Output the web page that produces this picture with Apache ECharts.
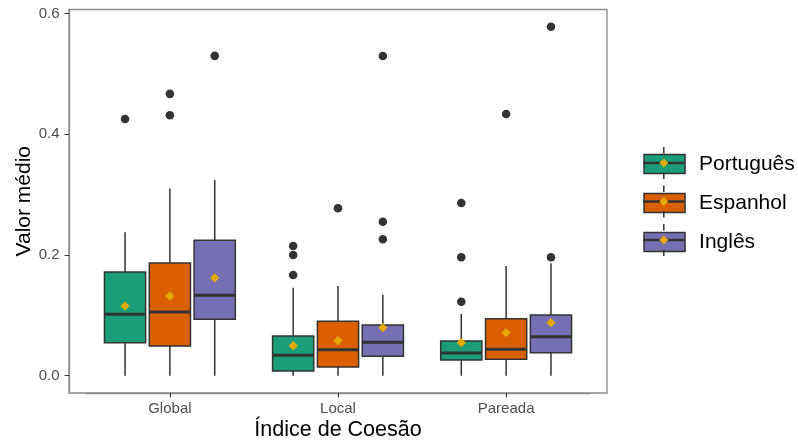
<!DOCTYPE html>
<html><head><meta charset="utf-8">
<script src="https://cdn.jsdelivr.net/npm/echarts@6/dist/echarts.min.js"></script>
<style>html,body{margin:0;padding:0;background:#fff}#c{width:798px;height:442px}</style>
</head><body><div id="c"></div>
<script>
const categories = ['Global', 'Local', 'Pareada'];
const languages = ['Português', 'Espanhol', 'Inglês'];
const yTicks = [0, 0.2, 0.4, 0.6];

// [lower whisker, Q1, median, Q3, upper whisker] per category
const portuguesBox = [[0, 0.0547, 0.102, 0.172, 0.2376], [0, 0.0078, 0.0338, 0.0658, 0.1458], [0, 0.026, 0.0375, 0.0575, 0.1022]];
const espanholBox  = [[0, 0.0492, 0.1055, 0.1867, 0.31], [0, 0.0144, 0.0431, 0.0901, 0.1486], [0, 0.0272, 0.0437, 0.0945, 0.1818]];
const inglesBox    = [[0, 0.0934, 0.1332, 0.2244, 0.3243], [0, 0.0321, 0.0553, 0.084, 0.1342], [0, 0.0381, 0.0646, 0.1006, 0.1862]];

const portuguesMean = [0.1155, 0.0497, 0.0547];
const espanholMean  = [0.132, 0.058, 0.0713];
const inglesMean    = [0.162, 0.0795, 0.0878];

// outliers: [category index, value]
const portuguesOutliers = [[0, 0.4254], [1, 0.2149], [1, 0.2], [1, 0.1669], [2, 0.1226], [2, 0.1962], [2, 0.2862]];
const espanholOutliers  = [[0, 0.467], [0, 0.4315], [1, 0.2774], [2, 0.4336]];
const inglesOutliers    = [[0, 0.530], [1, 0.5297], [1, 0.2552], [1, 0.226], [2, 0.5783], [2, 0.1962]];

const boxes = [portuguesBox, espanholBox, inglesBox];
const means = [portuguesMean, espanholMean, inglesMean];
const outliers = [portuguesOutliers, espanholOutliers, inglesOutliers];

const colors = ['#1B9E77', '#D95F02', '#7570B3'];
const meanColor = '#E6AB02';
const dark = '#333333';
const frameColor = '#8a8a8a';
const FONT = 'Liberation Sans, Arial, sans-serif';

const FRAME = {left: 69, top: 9.5, right: 607, bottom: 393};
const W = 798, H = 442;
const band = (FRAME.right - FRAME.left) / (categories.length + 0.2);
const gridLeft = FRAME.left + 0.1 * band;
const gridRightPx = FRAME.right - 0.1 * band;
const yMin = -0.0287, yMax = 0.6068;
const DODGE = 0.2667, BOXW = 0.245;

function boxRenderer(k) {
  return function (params, api) {
    const cat = api.value(0);
    const bw = api.size([1, 0])[0];
    const cx = api.coord([cat, 0])[0] + (k - 1) * bw * DODGE;
    const hw = bw * BOXW / 2;
    const y = d => api.coord([cat, api.value(d)])[1];
    const yLow = y(1), yQ1 = y(2), yMed = y(3), yQ3 = y(4), yHigh = y(5), yMean = y(6);
    const ls = {stroke: dark, lineWidth: 1.5};
    const d = 4.6;
    return {type: 'group', children: [
      {type: 'line', shape: {x1: cx, y1: yHigh, x2: cx, y2: yQ3}, style: ls},
      {type: 'line', shape: {x1: cx, y1: yQ1, x2: cx, y2: yLow}, style: ls},
      {type: 'rect', shape: {x: cx - hw, y: yQ3, width: 2 * hw, height: yQ1 - yQ3},
        style: {fill: api.visual('color'), stroke: dark, lineWidth: 1.5}},
      {type: 'line', shape: {x1: cx - hw, y1: yMed, x2: cx + hw, y2: yMed}, style: {stroke: dark, lineWidth: 3}},
      {type: 'polygon', shape: {points: [[cx, yMean - d], [cx + d, yMean], [cx, yMean + d], [cx - d, yMean]]},
        style: {fill: meanColor}}
    ]};
  };
}
function outlierRenderer(k) {
  return function (params, api) {
    const cat = api.value(0);
    const bw = api.size([1, 0])[0];
    const p = api.coord([cat, api.value(1)]);
    return {type: 'circle', shape: {cx: p[0] + (k - 1) * bw * DODGE, cy: p[1], r: 4.3}, style: {fill: dark}};
  };
}

const series = [];
languages.forEach((name, k) => {
  series.push({
    name, type: 'custom', itemStyle: {color: colors[k]},
    renderItem: boxRenderer(k),
    encode: {x: 0, y: [1, 2, 3, 4, 5, 6]},
    data: categories.map((c, i) => [i].concat(boxes[k][i], [means[k][i]])),
    z: 2
  });
  series.push({
    name, type: 'custom', itemStyle: {color: colors[k]},
    renderItem: outlierRenderer(k),
    encode: {x: 0, y: 1},
    data: outliers[k],
    z: 3
  });
});

// legend geometry
const LEG = {left: 643.3, top: 153.5, w: 41, h: 19, gap: 18, step: 38.5};
const legendDeco = [];
languages.forEach((n, i) => {
  const cy = LEG.top + LEG.h / 2 + i * LEG.step;
  const cx = LEG.left + LEG.w / 2;
  const ls = {stroke: dark, lineWidth: 1.5};
  legendDeco.push(
    {type: 'line', z: 100, shape: {x1: cx, y1: cy - LEG.h / 2 - 6.5, x2: cx, y2: cy - LEG.h / 2}, style: ls},
    {type: 'line', z: 100, shape: {x1: cx, y1: cy + LEG.h / 2, x2: cx, y2: cy + LEG.h / 2 + 6.5}, style: ls},
    {type: 'line', z: 100, shape: {x1: LEG.left, y1: cy, x2: LEG.left + LEG.w, y2: cy}, style: {stroke: dark, lineWidth: 2.5}},
    {type: 'polygon', z: 101, shape: {points: [[cx, cy - 4.5], [cx + 4.5, cy], [cx, cy + 4.5], [cx - 4.5, cy]]}, style: {fill: meanColor}}
  );
});

const chart = echarts.init(document.getElementById('c'), null, {renderer: 'canvas'});
chart.setOption({
  animation: false,
  backgroundColor: '#ffffff',
  textStyle: {fontFamily: FONT},
  grid: {left: gridLeft, right: W - gridRightPx, top: FRAME.top, bottom: H - FRAME.bottom,
    containLabel: false, outerBoundsMode: 'none'},
  xAxis: {
    type: 'category', data: categories, boundaryGap: true,
    axisLine: {show: true, onZero: false, lineStyle: {color: frameColor, width: 1.3}},
    axisTick: {show: true, alignWithLabel: true, length: 4.5, lineStyle: {color: dark, width: 1}},
    axisLabel: {color: '#4d4d4d', fontSize: 15, margin: 8, fontFamily: FONT},
    splitLine: {show: false},
    name: 'Índice de Coesão', nameLocation: 'middle', nameGap: 26.5, nameMoveOverlap: false,
    nameTextStyle: {color: '#000', fontSize: 21.5, fontFamily: FONT}
  },
  yAxis: {
    type: 'value', min: yMin, max: yMax, offset: gridLeft - FRAME.left,
    axisLine: {show: true, onZero: false, lineStyle: {color: frameColor, width: 1.3}},
    axisTick: {show: true, length: 4.5, customValues: yTicks, lineStyle: {color: dark, width: 1}},
    axisLabel: {color: '#4d4d4d', fontSize: 15, margin: 9.5, customValues: yTicks,
      formatter: v => v.toFixed(1), fontFamily: FONT},
    splitLine: {show: false},
    name: 'Valor médio', nameLocation: 'middle', nameGap: 34.5, nameMoveOverlap: false,
    nameTextStyle: {color: '#000', fontSize: 21, fontFamily: FONT}
  },
  legend: {
    data: languages, orient: 'vertical', left: LEG.left, top: LEG.top, padding: 0,
    icon: 'rect', itemWidth: LEG.w, itemHeight: LEG.h, itemGap: LEG.gap,
    itemStyle: {borderColor: dark, borderWidth: 1.5},
    textStyle: {fontSize: 21, color: '#000', padding: [0, 0, 0, 9], fontFamily: FONT},
    selectedMode: false
  },
  graphic: [
    {type: 'rect', z: 0, silent: true,
      shape: {x: FRAME.left, y: FRAME.top, width: FRAME.right - FRAME.left, height: FRAME.bottom - FRAME.top},
      style: {fill: null, stroke: frameColor, lineWidth: 1.3}}
  ].concat(legendDeco),
  series
});
</script></body></html>
